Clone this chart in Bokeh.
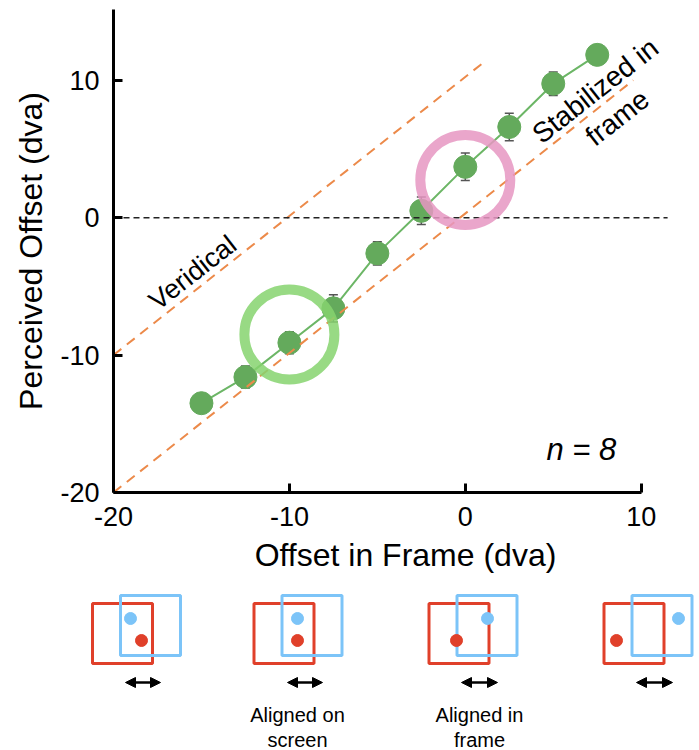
from bokeh.plotting import figure
from bokeh.layouts import column
from bokeh.models import (Range1d, FixedTicker, Whisker, TeeHead, ColumnDataSource, Arrow,
                          NormalHead, PrintfTickFormatter)
from bokeh.core.properties import value
from bokeh.embed import file_html
from bokeh.resources import INLINE
import math

FONT = "Liberation Sans"

# ---------------- data ----------------
offset_in_frame = [-15, -12.5, -10, -7.5, -5, -2.5, 0, 2.5, 5, 7.5]
perceived_offset = [-13.5, -11.6, -9.1, -6.6, -2.6, 0.5, 3.7, 6.6, 9.75, 11.85]
sem = [0.5, 0.8, 0.8, 1.0, 0.85, 1.0, 1.0, 1.0, 0.85, 0.5]

veridical_x = [-20, 1.14]
veridical_y = [-10, 11.4]
stabilized_x = [-20, 9.55]
stabilized_y = [-20, 10.0]
zero_x = [-20, 11.5]
zero_y = [0, 0]

highlight_x = [-10, 0]
highlight_y = [-8.5, 2.75]
highlight_colors = ["#86d46f", "#e697c2"]

x_ticks = [-20, -10, 0, 10]
y_ticks = [-20, -10, 0, 10]

annot_text = ["Veridical", "Stabilized in", "frame"]
annot_x = [-15.5, 7.39, 8.64]
annot_y = [-4.0, 9.24, 7.27]
annot_angle_deg = 38

n_label = ["n = 8"]
n_x = [6.6]
n_y = [-16.9]

# schematic diagrams (local pixel space of the strip below the chart)
red_frame_x = [122, 283.5, 458.5, 633.5]
blue_frame_x = [150, 311.5, 486.5, 661.5]
red_dot_x = [141, 297, 456, 616]
blue_dot_x = [130, 297, 487, 678]
arrow_x0 = [125, 287, 461, 636]
arrow_x1 = [160, 322, 497, 672]
caption_line1 = ["", "Aligned on", "Aligned in", ""]
caption_line2 = ["", "screen", "frame", ""]
caption_x = [122, 297, 479, 633.5]

RED = "#e0402a"
BLUE = "#7cc4f8"
GREEN = "#64aa5c"
GREEN_LINE = "#6cb666"
ORANGE = "#ec8a4a"

# ---------------- main chart ----------------
p = figure(width=699, height=582, x_range=Range1d(-20, 13.2), y_range=Range1d(-20, 15.15),
           output_backend="svg", toolbar_location=None,
           min_border_left=113, min_border_right=2, min_border_top=9, min_border_bottom=90)
p.frame_align = False
p.xgrid.visible = False
p.ygrid.visible = False
p.outline_line_color = None
p.background_fill_color = "white"
p.border_fill_color = "white"

p.xaxis.axis_label = "Offset in Frame (dva)"
p.yaxis.axis_label = "Perceived Offset (dva)"
p.xaxis.ticker = FixedTicker(ticks=x_ticks)
p.yaxis.ticker = FixedTicker(ticks=y_ticks)
p.xaxis.formatter = PrintfTickFormatter(format="%d")
p.yaxis.formatter = PrintfTickFormatter(format="%d")
p.xaxis.bounds = (-20, 10)
for ax in (p.xaxis[0], p.yaxis[0]):
    ax.axis_line_width = 3
    ax.axis_line_color = "black"
    ax.major_tick_line_width = 3
    ax.major_tick_line_color = "black"
    ax.major_tick_in = 9
    ax.major_tick_out = 0
    ax.minor_tick_line_color = None
    ax.major_label_text_font = FONT
    ax.major_label_text_font_size = "27px"
    ax.major_label_text_color = "black"
    ax.axis_label_text_font = FONT
    ax.axis_label_text_font_size = "32px"
    ax.axis_label_text_font_style = "normal"
    ax.axis_label_text_color = "black"
    ax.major_label_standoff = 14
    ax.axis_label_standoff = 8

src = ColumnDataSource(dict(
    x=offset_in_frame, y=perceived_offset,
    lo=[v - e for v, e in zip(perceived_offset, sem)],
    hi=[v + e for v, e in zip(perceived_offset, sem)],
))

w = Whisker(base="x", upper="hi", lower="lo", source=src, line_color="#555555", line_width=1.5,
            upper_head=TeeHead(size=9, line_color="#555555", line_width=1.5),
            lower_head=TeeHead(size=9, line_color="#555555", line_width=1.5), level="underlay")
p.add_layout(w)

p.line("x", "y", source=src, line_color=GREEN_LINE, line_width=2)
p.scatter("x", "y", source=src, size=23, fill_color=GREEN, line_color=GREEN)

p.line(veridical_x, veridical_y, line_color=ORANGE, line_width=2, line_dash="10 7")
p.line(stabilized_x, stabilized_y, line_color=ORANGE, line_width=2, line_dash="10 7")
p.line(zero_x, zero_y, line_color="#222222", line_width=1.5, line_dash="6 4")

p.scatter(highlight_x, highlight_y, size=90, fill_color=None, line_color=highlight_colors,
          line_width=10, line_alpha=0.85)

p.text(annot_x[:1], annot_y[:1], text=annot_text[:1], angle=math.radians(annot_angle_deg),
       text_font=value(FONT), text_font_size="27px", text_align="center",
       text_baseline="middle", text_color="black")
p.text(annot_x[1:], annot_y[1:], text=annot_text[1:], angle=math.radians(annot_angle_deg),
       text_font=value(FONT), text_font_size="28px", text_align="center",
       text_baseline="middle", text_color="black")
p.text(n_x, n_y, text=n_label, text_font=value(FONT), text_font_size="31px",
       text_font_style="italic", text_align="center", text_baseline="middle", text_color="black")

# ---------------- schematic strip ----------------
H2 = 168
d = figure(width=699, height=H2, x_range=Range1d(0, 699), y_range=Range1d(H2, 0),
           output_backend="svg", toolbar_location=None, x_axis_location=None, y_axis_location=None,
           min_border=0)
d.frame_align = False
d.xgrid.visible = False
d.ygrid.visible = False
d.outline_line_color = None

n = len(red_frame_x)
d.rect(red_frame_x, [51] * n, width=60, height=60, fill_color=None, line_color=RED, line_width=3)
d.rect(blue_frame_x, [43] * n, width=60, height=60, fill_color=None, line_color=BLUE, line_width=3)
d.scatter(blue_dot_x, [36] * n, size=12, fill_color=BLUE, line_color=BLUE)
d.scatter(red_dot_x, [58] * n, size=12, fill_color=RED, line_color=RED)

asrc = ColumnDataSource(dict(x0=arrow_x0, x1=arrow_x1, y=[100] * n))
d.add_layout(Arrow(x_start="x0", y_start="y", x_end="x1", y_end="y", source=asrc,
                   line_width=2.5, line_color="black",
                   start=NormalHead(size=10, fill_color="black", line_color="black"),
                   end=NormalHead(size=10, fill_color="black", line_color="black")))

d.text(caption_x, [132] * n, text=caption_line1, text_font=value(FONT), text_font_size="20px",
       text_align="center", text_baseline="middle", text_color="black")
d.text(caption_x, [157] * n, text=caption_line2, text_font=value(FONT), text_font_size="20px",
       text_align="center", text_baseline="middle", text_color="black")

layout = column(p, d, spacing=0)
open("out.html", "w").write(file_html(layout, INLINE))
